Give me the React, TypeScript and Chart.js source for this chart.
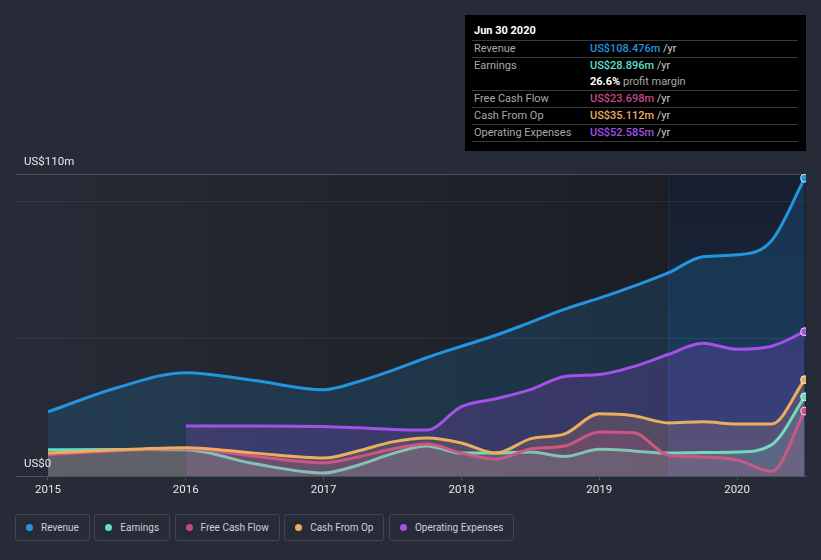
import React, { useEffect, useRef } from "react";
import { Chart, registerables } from "chart.js";

Chart.register(...registerables);

// ---- data ----
const periods = [2015, 2015.5, 2016, 2016.5, 2017, 2017.25, 2017.5, 2017.75, 2018, 2018.25, 2018.5, 2018.75, 2019, 2019.25, 2019.5, 2019.75, 2020, 2020.25, 2020.49];
const revenue = [23.4, 32.2, 37.7, 34.8, 31.5, 34.4, 38.5, 43.2, 47.3, 51.3, 56.0, 60.8, 64.8, 69.2, 74.0, 79.9, 80.6, 85.7, 108.476];
const earnings = [9.6, 9.7, 9.6, 4.5, 1.2, 4.0, 8.2, 11.0, 8.4, 8.4, 8.8, 7.2, 9.8, 9.2, 8.4, 8.6, 8.8, 11.4, 28.896];
const freeCashFlow = [7.8, 9.3, 10.0, 7.3, 4.9, 7.0, 9.9, 11.7, 8.4, 6.2, 9.9, 11.0, 16.1, 15.8, 7.7, 7.0, 5.9, 1.8, 23.698];
const cashFromOp = [8.4, 9.6, 10.4, 8.4, 6.6, 9.2, 12.5, 13.9, 12.1, 8.4, 13.6, 15.4, 22.7, 22.0, 19.4, 19.8, 19.0, 19.0, 35.112];
const operatingExpenses = [null, null, 18.3, 18.3, 18.1, 17.6, 17.0, 16.8, 25.3, 28.2, 31.5, 36.3, 37.0, 39.9, 44.3, 48.4, 46.2, 47.3, 52.585];

const yearTicks = [2015, 2016, 2017, 2018, 2019, 2020];
const yLabelValues = [0, 110];
const yLabelTexts = ["US$0", "US$110m"];
const highlightStart = 2019.5;

const seriesNames = ["Revenue", "Earnings", "Free Cash Flow", "Cash From Op", "Operating Expenses"];
const seriesColors = ["#2394df", "#5fe0cc", "#c8478a", "#eaae61", "#a451ea"];
const seriesFills = [
  "rgba(35,148,223,0.17)",
  "rgba(95,224,204,0.16)",
  "rgba(200,71,138,0.16)",
  "rgba(234,174,97,0.16)",
  "rgba(164,81,234,0.2)",
];
const seriesValues = [revenue, earnings, freeCashFlow, cashFromOp, operatingExpenses];
const drawOrder = [5, 3, 2, 1, 4];

const tipTitle = "Jun 30 2020";
const tipValues = ["US$108.476m", "US$28.896m", "US$23.698m", "US$35.112m", "US$52.585m"];
const tipMargin = "26.6%";

const FONT = "Roboto, 'Noto Sans', sans-serif";

const bgPlugin = {
  id: "bgPlugin",
  beforeDraw(chart: any) {
    const { ctx, chartArea: a, scales } = chart;
    const hx = scales.x.getPixelForValue(highlightStart);
    ctx.save();
    const g = ctx.createLinearGradient(a.left, 0, hx, 0);
    g.addColorStop(0, "#262b37");
    g.addColorStop(1, "#1b1e24");
    ctx.fillStyle = g;
    ctx.fillRect(a.left, a.top, hx - a.left, a.bottom - a.top);
    const g2 = ctx.createLinearGradient(0, a.top, 0, a.bottom);
    g2.addColorStop(0, "#161f2e");
    g2.addColorStop(1, "#1d2c4a");
    ctx.fillStyle = g2;
    ctx.fillRect(hx, a.top, a.right - hx, a.bottom - a.top);
    ctx.strokeStyle = "rgba(60,80,110,0.25)";
    ctx.lineWidth = 1;
    ctx.beginPath();
    ctx.moveTo(Math.round(hx) + 0.5, a.top);
    ctx.lineTo(Math.round(hx) + 0.5, a.bottom);
    ctx.stroke();
    ctx.restore();
  },
};

const yLabelPlugin = {
  id: "yLabelPlugin",
  afterDatasetsDraw(chart: any) {
    const { ctx, scales } = chart;
    ctx.save();
    ctx.font = `11.5px ${FONT}`;
    ctx.fillStyle = "#e8e8e8";
    ctx.textAlign = "left";
    ctx.textBaseline = "middle";
    yLabelValues.forEach((v, i) => {
      const y = scales.y.getPixelForValue(v);
      ctx.fillText(yLabelTexts[i], 24, y - 12);
    });
    ctx.restore();
  },
};

export default function App() {
  const ref = useRef<HTMLCanvasElement | null>(null);

  useEffect(() => {
    if (!ref.current) return;
    const datasets = seriesNames.map((name, si) => ({
      label: name,
      data: periods.map((p, i) => ({ x: p, y: seriesValues[si][i] })),
      borderColor: seriesColors[si],
      backgroundColor: seriesFills[si],
      fill: "origin",
      borderWidth: 3,
      cubicInterpolationMode: "monotone" as const,
      spanGaps: false,
      order: drawOrder[si],
      pointRadius: periods.map((_, i) => (i === periods.length - 1 ? 4 : 0)),
      pointBackgroundColor: seriesColors[si],
      pointBorderColor: "rgba(255,255,255,0.85)",
      pointBorderWidth: 1,
      pointHoverRadius: 0,
    }));

    const chart = new Chart(ref.current, {
      type: "line",
      data: { datasets },
      options: {
        animation: false,
        responsive: false,
        maintainAspectRatio: false,
        events: [],
        layout: { padding: { left: 16, right: 15, top: 174, bottom: 0 } },
        plugins: { legend: { display: false }, tooltip: { enabled: false } },
        scales: {
          x: {
            type: "linear",
            min: 2014.768,
            max: 2020.5,
            afterBuildTicks: (scale: any) => {
              scale.ticks = yearTicks.map((v) => ({ value: v }));
            },
            ticks: {
              color: "#e6e6e6",
              font: { family: FONT, size: 11.5 },
              padding: 3,
              maxRotation: 0,
              autoSkip: false,
              callback: (v: any) => String(v),
            },
            grid: {
              display: true,
              drawOnChartArea: false,
              drawTicks: true,
              tickLength: 4,
              color: "#4b505b",
            },
            border: { display: true, color: "#4b505b", width: 1 },
          },
          y: {
            type: "linear",
            min: 0,
            max: 110,
            ticks: { display: false, stepSize: 50 },
            grid: {
              drawTicks: false,
              color: (c: any) =>
                c.tick && (c.tick.value === 110 || c.tick.value === 0)
                  ? "#4b505b"
                  : "rgba(255,255,255,0.07)",
            },
            border: { display: false },
          },
        },
      },
      plugins: [bgPlugin, yLabelPlugin],
    });
    return () => chart.destroy();
  }, []);

  const rowStyle: React.CSSProperties = {
    borderTop: "1px solid #3a3a3a",
    height: 16,
    lineHeight: "16px",
    position: "relative",
  };
  const labelStyle: React.CSSProperties = { position: "absolute", left: 2, top: 0, color: "#a8a8a8" };
  const valStyle: React.CSSProperties = { position: "absolute", left: 118, top: 0, whiteSpace: "nowrap" };
  const yrStyle: React.CSSProperties = { color: "#cfcfcf", fontWeight: 400 };

  const tipRow = (i: number) => (
    <div style={rowStyle} key={i}>
      <span style={labelStyle}>{seriesNames[i]}</span>
      <span style={valStyle}>
        <span style={{ color: seriesColors[i], fontWeight: 500 }}>{tipValues[i]}</span>
        <span style={yrStyle}> /yr</span>
      </span>
    </div>
  );

  return (
    <div
      style={{
        position: "absolute",
        left: 0,
        top: 0,
        width: 821,
        height: 560,
        background: "#262b37",
        overflow: "hidden",
        fontFamily: FONT,
      }}
    >
      <canvas ref={ref} width={821} height={500} style={{ position: "absolute", left: 0, top: 0, width: 821, height: 500 }} />

      {/* tooltip box */}
      <div
        style={{
          position: "absolute",
          left: 465,
          top: 15,
          width: 341,
          height: 136,
          background: "#000",
          fontSize: 11,
        }}
      >
        <div style={{ position: "absolute", left: 7, top: 1, width: 326 }}>
          <div style={{ height: 24, paddingTop: 8, lineHeight: "14px", color: "#fff", fontWeight: 700, paddingLeft: 2, boxSizing: "border-box" }}>
            {tipTitle}
          </div>
          {tipRow(0)}
          <div style={{ ...rowStyle, height: 32 }}>
            <span style={labelStyle}>{seriesNames[1]}</span>
            <span style={valStyle}>
              <span style={{ color: seriesColors[1], fontWeight: 500 }}>{tipValues[1]}</span>
              <span style={yrStyle}> /yr</span>
            </span>
            <span style={{ ...valStyle, top: 16 }}>
              <span style={{ color: "#fff", fontWeight: 700 }}>{tipMargin}</span>
              <span style={{ color: "#a8a8a8" }}> profit margin</span>
            </span>
          </div>
          {tipRow(2)}
          {tipRow(3)}
          {tipRow(4)}
          <div style={{ borderTop: "1px solid #3a3a3a" }} />
        </div>
      </div>

      {/* legend */}
      <div style={{ position: "absolute", left: 15, top: 514, display: "flex", gap: 4.5 }}>
        {seriesNames.map((n, i) => (
          <div
            key={n}
            style={{
              height: 27,
              boxSizing: "border-box",
              border: "1px solid #3f4551",
              borderRadius: 3,
              display: "flex",
              alignItems: "center",
              padding: "0 10px",
              fontSize: 10,
              color: "#cdd0d5",
            }}
          >
            <span
              style={{
                width: 7,
                height: 7,
                borderRadius: "50%",
                background: seriesColors[i],
                marginRight: 8,
                display: "inline-block",
              }}
            />
            {n}
          </div>
        ))}
      </div>
    </div>
  );
}
